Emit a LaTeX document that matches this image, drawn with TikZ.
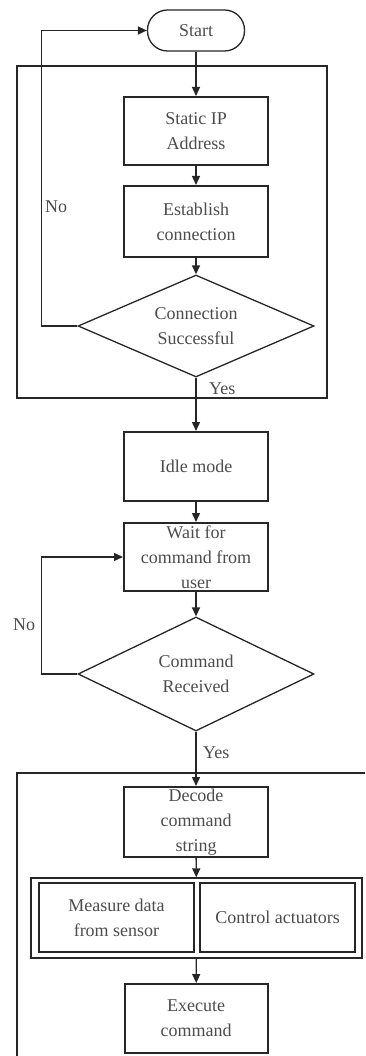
\documentclass[tikz,border=0pt]{standalone}
\usepackage{fontspec}
\setmainfont{Liberation Serif}
\usetikzlibrary{shapes.geometric,arrows.meta}
\begin{document}
\begin{tikzpicture}[x=1pt,y=-1pt,
  txt/.style={text=black!70, font=\fontsize{18}{25}\selectfont, align=center, inner sep=0pt},
  proc/.style={txt, draw=black!85, line width=2pt, minimum width=144pt, minimum height=69pt},
  dec/.style={txt, draw=black!85, line width=1.3pt, diamond, minimum width=236pt, minimum height=102pt, shape aspect=2.3},
  term/.style={txt, draw=black!85, line width=1.3pt, rounded corners=20pt, minimum width=97pt, minimum height=41pt},
  inbox/.style={txt, draw=black!85, line width=1.5pt, minimum width=155pt, minimum height=69pt},
  frame/.style={draw=black!85, line width=1.3pt},
  arr/.style={draw=black!85, line width=1.4pt, -{Triangle[length=9pt,width=8pt]}},
  lbl/.style={text=black!70, font=\fontsize{18}{22}\selectfont, inner sep=0pt, anchor=west}
]
\useasboundingbox (0,0) rectangle (365,1056);
\clip (0,0) rectangle (365,1056);
% group frames
\node[frame, minimum width=310pt, minimum height=332pt, inner sep=0pt] (grp1) at (172,232) {};
\coordinate (f3a) at (375,773);
\coordinate (f3b) at (17,773);
\coordinate (f3c) at (17,1070);
\draw[frame] (f3a) -- (f3b) -- (f3c);
% nodes
\node[term] (start) at (196,30.5) {Start};
\node[proc, minimum height=68pt] (ip) at (196,131) {Static IP\\Address};
\node[proc, minimum height=71pt] (est) at (196,221.5) {Establish\\connection};
\node[dec] (d1) at (196,326) {Connection\\Successful};
\node[proc] (idle) at (196,466.5) {Idle mode};
\node[proc, minimum height=68pt] (wait) at (196,557) {Wait for\\command from\\user};
\node[dec, minimum height=114pt] (d2) at (196,674) {Command\\Received};
\node[proc, minimum height=70pt] (decode) at (196,822) {Decode\\command\\string};
\node[frame, minimum width=331pt, minimum height=80pt, inner sep=0pt] (grp) at (196.5,918) {};
\node[inbox] (meas) at (116.5,917.5) {Measure data\\from sensor};
\node[inbox] (ctrl) at (277.5,917.5) {Control actuators};
\node[proc, minimum width=143pt] (exec) at (196,1018.5) {Execute\\command};
% labels
\node[lbl] (no1) at (45,207) {No};
\node[lbl] (yes1) at (209,389) {Yes};
\node[lbl] (no2) at (13,625) {No};
\node[lbl] (yes2) at (203,753) {Yes};
% connectors
\coordinate (nl1) at (41.5,326);
\coordinate (nl2) at (41.5,674);
\draw[arr] (start) -- (ip);
\draw[arr] (ip) -- (est);
\draw[arr] (est) -- (d1);
\draw[arr] (d1.west) -- (nl1) |- (start.west);
\draw[arr] (d1.south) -- (idle.north);
\draw[arr] (idle) -- (wait);
\draw[arr] (wait) -- (d2);
\draw[arr] (d2.west) -- (nl2) |- (wait.west);
\draw[arr] (d2.south) -- (decode.north);
\draw[arr] (decode) -- (grp);
\draw[arr] (grp) -- (exec);
\end{tikzpicture}
\end{document}
